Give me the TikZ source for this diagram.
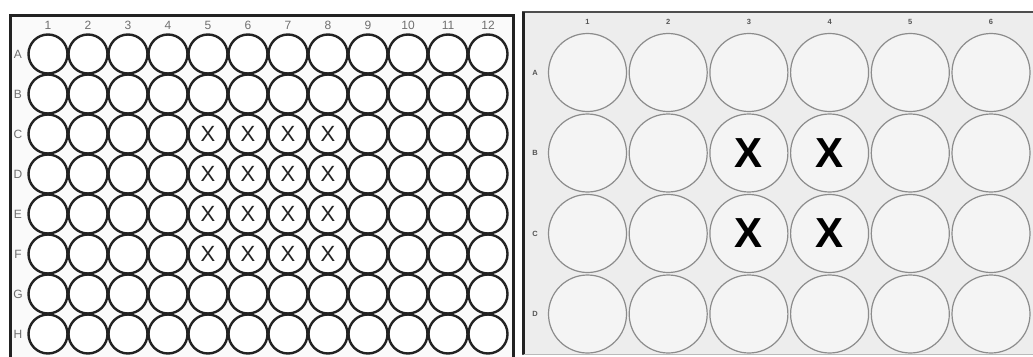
\documentclass[tikz,border=0pt]{standalone}
\usepackage{fontspec}
\setmainfont{Liberation Sans}
\setsansfont{Liberation Sans}
\definecolor{ink}{HTML}{222222}
\definecolor{lbl}{HTML}{707070}
\definecolor{rlbl}{HTML}{555555}
\definecolor{rfill}{HTML}{EDEDED}
\definecolor{rwell}{HTML}{F4F4F4}
\definecolor{rline}{HTML}{8C8C8C}
\begin{document}
\begin{tikzpicture}[x=1pt,y=-1pt,
  lwell/.style={circle,draw=ink,line width=2.4pt,fill=white,minimum size=39pt,inner sep=0pt,font=\fontsize{22}{22}\selectfont,text=ink},
  rwellst/.style={circle,draw=rline,line width=1.2pt,fill=rwell,minimum size=78pt,inner sep=0pt,font=\fontsize{42}{42}\bfseries\selectfont,text=black},
  llab/.style={font=\fontsize{12}{12}\selectfont,text=lbl,inner sep=0pt},
  rlab/.style={font=\fontsize{7.5}{7.5}\bfseries\selectfont,text=rlbl,inner sep=0pt}]
\useasboundingbox (0,0) rectangle (1033,356);
\clip (0,0) rectangle (1033,356);
\fill[white] (0,0) rectangle (1033,356);
% left plate
\node[draw=ink,line width=3pt,fill=white!98!black,minimum width=503pt,minimum height=380pt,inner sep=0pt,anchor=north west] (lplate) at (9,14) {};
\foreach \c in {1,...,12}{
  \node[llab] (lc\c) at ({48+40*(\c-1)},25.5) {\c};
}
\foreach \r [count=\i from 0] in {A,B,C,D,E,F,G,H}{
  \node[llab] (lr\r) at (18,{54+40*\i}) {\r};
  \foreach \c in {1,...,12}{
    \pgfmathtruncatemacro{\mark}{(\c>=5)&&(\c<=8)&&(\i>=2)&&(\i<=5)}
    \ifnum\mark=1
      \node[lwell] (l\r\c) at ({48+40*(\c-1)},{54+40*\i}) {X};
    \else
      \node[lwell] (l\r\c) at ({48+40*(\c-1)},{54+40*\i}) {};
    \fi
  }
}
% right plate
\node[fill=rfill,draw=rline!60,line width=1pt,minimum width=530pt,minimum height=342pt,inner sep=0pt,anchor=north west] (rplate) at (523,12) {};
\draw[ink!80,line width=2.2pt] (rplate.south west) -- (rplate.north west) -- (rplate.north east);
\draw[ink,line width=3pt] ([yshift=1pt]rplate.south west) -- (rplate.north west);
\foreach \c in {1,...,6}{
  \node[rlab] (rc\c) at ({587.5+80.7*(\c-1)},22) {\c};
}
\foreach \r [count=\i from 0] in {A,B,C,D}{
  \node[rlab] (rr\r) at (535,{72.5+80.5*\i}) {\r};
  \foreach \c in {1,...,6}{
    \pgfmathtruncatemacro{\mark}{(\c>=3)&&(\c<=4)&&(\i>=1)&&(\i<=2)}
    \ifnum\mark=1
      \node[rwellst] (r\r\c) at ({587.5+80.7*(\c-1)},{72.5+80.5*\i}) {X};
    \else
      \node[rwellst] (r\r\c) at ({587.5+80.7*(\c-1)},{72.5+80.5*\i}) {};
    \fi
  }
}
\end{tikzpicture}
\end{document}
